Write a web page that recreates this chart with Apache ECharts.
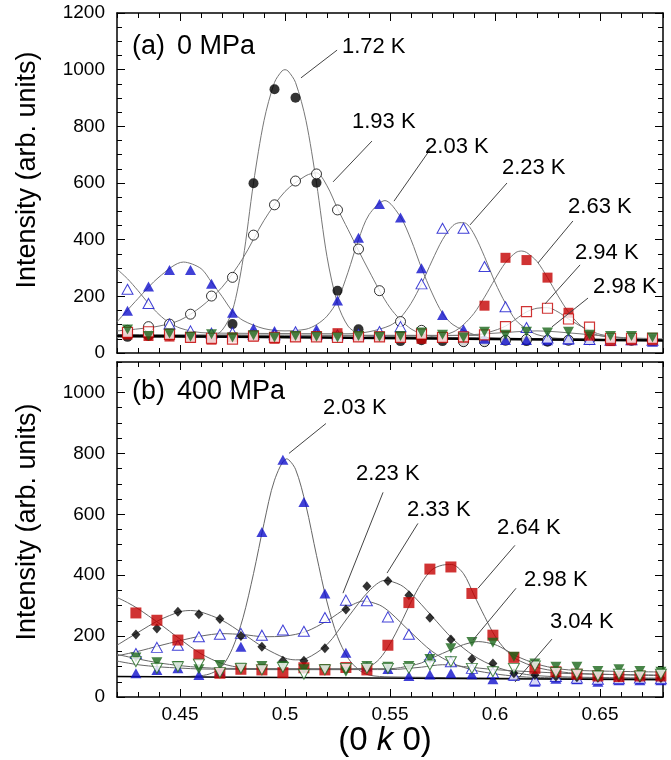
<!DOCTYPE html>
<html>
<head>
<meta charset="utf-8">
<script src="https://cdn.jsdelivr.net/npm/echarts@6/dist/echarts.min.js"></script>
<style>
  html, body { margin: 0; padding: 0; background: #fff; }
  #chart { width: 671px; height: 760px; }
</style>
</head>
<body>
<div id="chart"></div>
<script>
// measured k positions of the data points
const kA = [0.425, 0.435, 0.445, 0.455, 0.465, 0.475, 0.485, 0.495, 0.505, 0.515, 0.525, 0.535, 0.545,
            0.555, 0.565, 0.575, 0.585, 0.595, 0.605, 0.615, 0.625, 0.635, 0.645, 0.655, 0.665, 0.675];
const kB = [0.429, 0.439, 0.449, 0.459, 0.469, 0.479, 0.489, 0.499, 0.509, 0.519, 0.529, 0.539, 0.549,
            0.559, 0.569, 0.579, 0.589, 0.599, 0.609, 0.619, 0.629, 0.639, 0.649, 0.659, 0.669, 0.679];

// (a) 0 MPa
const a172 = [57, 60, 62, 58, 55, 102, 599, 931, 901, 601, 220, 84, 58, 42, 45, 42, 40, 40, 45, 42, 40, 45, 48, 45, 45, 42];
const a193 = [80, 93, 102, 137, 201, 267, 416, 523, 607, 632, 505, 367, 220, 111, 80, 55, 40, 40, 45, 48, 45, 45, 47, 45, 45, 45];
const a203 = [149, 235, 293, 293, 244, 142, 87, 78, 72, 84, 185, 407, 526, 478, 299, 134, 84, 50, 46, 46, 45, 47, 46, 48, 46, 40];
const a223 = [225, 175, 102, 78, 70, 72, 66, 64, 75, 66, 64, 66, 76, 93, 244, 440, 440, 305, 163, 90, 53, 50, 48, 45, 47, 45];
const a263 = [65, 60, 58, 55, 47, 55, 58, 50, 57, 60, 70, 58, 58, 55, 50, 55, 55, 167, 336, 328, 266, 142, 61, 42, 45, 45];
const a294 = [73, 75, 66, 55, 52, 49, 60, 55, 57, 57, 55, 57, 57, 55, 67, 55, 57, 64, 93, 146, 158, 120, 91, 52, 52, 52];
const a298 = [83, 60, 69, 57, 66, 55, 63, 55, 60, 57, 55, 60, 57, 60, 72, 64, 55, 75, 64, 75, 72, 75, 64, 60, 60, 55];

// (b) 400 MPa
const b203 = [78, 89, 94, 72, 85, 165, 542, 779, 640, 340, 145, 100, 92, 69, 74, 78, 75, 58, 70, 50, 60, 58, 50, 55, 55, 55];
const b223 = [143, 163, 170, 198, 206, 209, 203, 220, 216, 261, 318, 316, 263, 206, 134, 116, 94, 80, 72, 56, 67, 62, 58, 60, 62, 60];
const b233 = [205, 225, 280, 272, 256, 200, 165, 119, 119, 160, 287, 364, 381, 334, 260, 189, 125, 110, 78, 72, 67, 65, 63, 65, 63, 62];
const b264 = [276, 252, 187, 138, 78, 91, 89, 80, 96, 89, 97, 89, 170, 310, 420, 427, 340, 203, 130, 94, 83, 75, 69, 67, 69, 69];
const b298 = [130, 114, 102, 91, 105, 96, 102, 102, 91, 91, 83, 102, 99, 102, 125, 160, 181, 178, 132, 110, 99, 99, 85, 91, 85, 83];
const b304 = [116, 94, 99, 108, 80, 94, 89, 97, 75, 89, 94, 94, 94, 94, 105, 116, 94, 83, 94, 102, 80, 75, 69, 75, 69, 75];

// fitted curves as [k, I]
const c172A = [[0.42, 62], [0.465, 60], [0.47, 80], [0.475, 150], [0.48, 330], [0.485, 600], [0.49, 820], [0.495, 955],
               [0.4985, 995], [0.5, 1000], [0.5015, 995], [0.505, 955], [0.51, 820], [0.515, 600], [0.52, 340],
               [0.525, 175], [0.53, 95], [0.535, 68], [0.54, 60], [0.68, 45]];
const c193A = [[0.42, 78], [0.43, 85], [0.44, 95], [0.45, 116], [0.46, 163], [0.47, 232], [0.48, 335], [0.49, 468],
               [0.5, 570], [0.51, 626], [0.515, 636], [0.52, 590], [0.525, 510], [0.53, 436], [0.54, 290], [0.55, 160],
               [0.56, 85], [0.57, 58], [0.58, 50], [0.68, 45]];
const c203A = [[0.42, 110], [0.43, 192], [0.44, 268], [0.4516, 321], [0.46, 298], [0.465, 250], [0.47, 200], [0.475, 147],
               [0.48, 115], [0.49, 86], [0.5, 78], [0.51, 84], [0.515, 100], [0.52, 130], [0.525, 185], [0.53, 285],
               [0.535, 400], [0.54, 488], [0.5476, 538], [0.555, 480], [0.56, 400], [0.565, 300], [0.57, 212],
               [0.575, 140], [0.58, 100], [0.59, 65], [0.6, 52], [0.68, 45]];
const c223A = [[0.42, 296], [0.425, 262], [0.43, 220], [0.435, 175], [0.44, 136], [0.445, 106], [0.45, 88], [0.455, 78],
               [0.46, 72], [0.47, 70], [0.53, 68], [0.54, 75], [0.55, 97], [0.555, 125], [0.56, 175], [0.565, 244],
               [0.57, 325], [0.575, 400], [0.58, 450], [0.5833, 460], [0.586, 458], [0.59, 420], [0.595, 340],
               [0.6, 250], [0.605, 175], [0.61, 115], [0.615, 85], [0.62, 65], [0.63, 52], [0.68, 45]];
const c263A = [[0.42, 55], [0.57, 55], [0.58, 74], [0.585, 100], [0.59, 140], [0.595, 197], [0.6, 261], [0.605, 319],
               [0.61, 355], [0.6127, 360], [0.615, 355], [0.62, 323], [0.625, 266], [0.63, 202], [0.635, 144],
               [0.64, 102], [0.645, 75], [0.65, 61], [0.66, 52], [0.68, 47]];
const c294A = [[0.42, 62], [0.59, 62], [0.6, 80], [0.605, 95], [0.61, 120], [0.615, 145], [0.62, 158], [0.625, 160],
               [0.63, 145], [0.635, 120], [0.64, 98], [0.645, 80], [0.65, 66], [0.66, 54], [0.68, 48]];
const c298A = [[0.42, 65], [0.58, 62], [0.6, 70], [0.62, 78], [0.64, 68], [0.66, 55], [0.68, 50]];
const baseA = [[0.42, 61], [0.68, 44]];

const c203B = [[0.42, 67], [0.45, 67], [0.46, 70], [0.465, 78], [0.47, 100], [0.475, 160], [0.48, 260], [0.485, 405],
               [0.49, 570], [0.495, 712], [0.5008, 782], [0.505, 748], [0.51, 628], [0.515, 465], [0.52, 312],
               [0.525, 198], [0.53, 128], [0.535, 90], [0.54, 72], [0.55, 66], [0.68, 58]];
const c223B = [[0.42, 135], [0.43, 150], [0.44, 168], [0.45, 185], [0.46, 200], [0.47, 208], [0.48, 205], [0.49, 198],
               [0.5, 200], [0.51, 215], [0.52, 250], [0.53, 295], [0.5375, 315], [0.545, 302], [0.55, 278],
               [0.56, 212], [0.57, 150], [0.58, 110], [0.59, 88], [0.6, 76], [0.61, 68], [0.62, 64], [0.68, 60]];
const c233B = [[0.42, 170], [0.43, 212], [0.44, 252], [0.45, 280], [0.455, 284], [0.46, 279], [0.47, 252], [0.48, 208],
               [0.49, 162], [0.5, 128], [0.505, 122], [0.51, 126], [0.52, 172], [0.53, 262], [0.54, 348],
               [0.5475, 383], [0.555, 368], [0.56, 340], [0.57, 265], [0.58, 190], [0.59, 135], [0.6, 100],
               [0.61, 80], [0.62, 70], [0.64, 65], [0.68, 62]];
const c264B = [[0.42, 327], [0.425, 310], [0.43, 290], [0.44, 242], [0.45, 190], [0.46, 142], [0.47, 110], [0.48, 95],
               [0.49, 90], [0.53, 90], [0.54, 100], [0.545, 125], [0.55, 175], [0.555, 240], [0.56, 312],
               [0.565, 375], [0.57, 418], [0.575, 433], [0.5794, 435], [0.585, 405], [0.59, 335], [0.595, 265],
               [0.6, 200], [0.605, 155], [0.61, 125], [0.62, 97], [0.63, 84], [0.64, 77], [0.68, 70]];
const c298B = [[0.42, 140], [0.43, 125], [0.44, 112], [0.45, 103], [0.46, 97], [0.47, 94], [0.55, 93], [0.56, 103],
               [0.565, 112], [0.57, 128], [0.58, 158], [0.585, 172], [0.592, 182], [0.6, 172], [0.605, 155],
               [0.61, 135], [0.62, 108], [0.63, 93], [0.64, 87], [0.68, 82]];
const c304B = [[0.42, 118], [0.43, 106], [0.44, 99], [0.45, 95], [0.46, 92], [0.5, 90], [0.55, 90], [0.565, 98],
               [0.575, 106], [0.585, 100], [0.6, 90], [0.62, 82], [0.64, 76], [0.68, 72]];
const baseB = [[0.42, 67], [0.68, 57]];

// tick labels
const xTicks = [0.45, 0.5, 0.55, 0.6, 0.65];
const yTicksA = [0, 200, 400, 600, 800, 1000, 1200];
const yTicksB = [0, 200, 400, 600, 800, 1000];

const tempsA = ['1.72 K', '1.93 K', '2.03 K', '2.23 K', '2.63 K', '2.94 K', '2.98 K'];
const tempsB = ['2.03 K', '2.23 K', '2.33 K', '2.64 K', '2.98 K', '3.04 K'];

const FONT = '"Liberation Sans", Arial, sans-serif';
const BLUE = '#1010cc', RED = '#c40000', GREEN = '#1a661a';

function xAxes(g, labels) {
  const major = pos => ({
    type: 'value', gridIndex: g, position: pos, min: 0.42, max: 0.68,
    splitLine: { show: false },
    axisLine: { onZero: false, lineStyle: { color: '#000', width: 1.5 } },
    axisTick: { inside: true, length: 8, customValues: xTicks, lineStyle: { color: '#000' } },
    axisLabel: labels && pos === 'bottom'
      ? { customValues: xTicks, fontSize: 19, fontFamily: FONT, color: '#000', margin: 8, formatter: v => String(v) }
      : { show: false }
  });
  const minor = pos => ({
    type: 'value', gridIndex: g, position: pos, min: 0.42, max: 0.68, interval: 0.01,
    splitLine: { show: false },
    axisLine: { show: false, onZero: false },
    axisTick: { inside: true, length: 5, lineStyle: { color: '#000' } },
    axisLabel: { show: false }
  });
  return [major('bottom'), minor('bottom'), major('top'), minor('top')];
}

function yAxes(g, max, ticks) {
  const major = pos => ({
    type: 'value', gridIndex: g, position: pos, min: 0, max: max,
    splitLine: { show: false },
    axisLine: { onZero: false, lineStyle: { color: '#000', width: 1.5 } },
    axisTick: { inside: true, length: 8, customValues: ticks, lineStyle: { color: '#000' } },
    axisLabel: pos === 'left'
      ? { customValues: ticks, fontSize: 19, fontFamily: FONT, color: '#000', margin: 12, formatter: v => String(v) }
      : { show: false }
  });
  const minor = pos => ({
    type: 'value', gridIndex: g, position: pos, min: 0, max: max, interval: 50,
    splitLine: { show: false },
    axisLine: { show: false, onZero: false },
    axisTick: { inside: true, length: 5, lineStyle: { color: '#000' } },
    axisLabel: { show: false }
  });
  return [major('left'), minor('left'), major('right'), minor('right')];
}

function curve(pts, g, color, width) {
  return {
    type: 'line', xAxisIndex: g * 4, yAxisIndex: g * 4, data: pts,
    showSymbol: false, smooth: 0.3, silent: true, z: 1,
    lineStyle: { color: color || '#777', width: width || 1 }
  };
}

function marks(vals, ks, g, sym) {
  return Object.assign({
    type: 'scatter', xAxisIndex: g * 4, yAxisIndex: g * 4, silent: true, z: 3,
    data: ks.map((k, i) => [k, vals[i]])
  }, sym);
}

const filledTri = c => ({ symbol: 'triangle', symbolSize: [11, 10], itemStyle: { color: c } });
const openTri = c => ({ symbol: 'triangle', symbolSize: [11, 10], itemStyle: { color: '#fff', borderColor: c, borderWidth: 1 } });
const downTri = c => ({ symbol: 'triangle', symbolRotate: 180, symbolSize: [11, 10], itemStyle: { color: c } });
const openDownTri = c => ({ symbol: 'triangle', symbolRotate: 180, symbolSize: [11, 10], itemStyle: { color: '#fff', borderColor: c, borderWidth: 1 } });

const chart = echarts.init(document.getElementById('chart'));

const option = {
  animation: false,
  backgroundColor: '#fff',
  grid: [
    { left: 117, top: 13, width: 546, height: 340 },
    { left: 117, top: 362, width: 546, height: 335 }
  ],
  xAxis: xAxes(0, false).concat(xAxes(1, true)),
  yAxis: yAxes(0, 1200, yTicksA).concat(yAxes(1, 1100, yTicksB)),
  series: [
    curve(c172A, 0), curve(c193A, 0), curve(c203A, 0), curve(c223A, 0),
    curve(c263A, 0), curve(c294A, 0), curve(c298A, 0), curve(baseA, 0, '#000', 2.5),
    curve(c203B, 1, '#666'), curve(c223B, 1, '#666'), curve(c233B, 1, '#666'), curve(c264B, 1, '#666'),
    curve(c298B, 1, '#666'), curve(c304B, 1, '#666'), curve(baseB, 1, '#000', 1.5),

    marks(a172, kA, 0, { symbol: 'circle', symbolSize: 10, itemStyle: { color: '#000' } }),
    marks(a193, kA, 0, { symbol: 'circle', symbolSize: 10, itemStyle: { color: '#fff', borderColor: '#000', borderWidth: 1 } }),
    marks(a203, kA, 0, filledTri(BLUE)),
    marks(a223, kA, 0, openTri(BLUE)),
    marks(a263, kA, 0, { symbol: 'rect', symbolSize: 10, itemStyle: { color: RED } }),
    marks(a294, kA, 0, { symbol: 'rect', symbolSize: 10, itemStyle: { color: '#fff', borderColor: RED, borderWidth: 1.2 } }),
    marks(a298, kA, 0, downTri(GREEN)),

    marks(b203, kB, 1, filledTri(BLUE)),
    marks(b223, kB, 1, openTri(BLUE)),
    marks(b233, kB, 1, { symbol: 'diamond', symbolSize: [9, 10], itemStyle: { color: '#000' } }),
    marks(b264, kB, 1, { symbol: 'rect', symbolSize: 11, itemStyle: { color: RED } }),
    marks(b298, kB, 1, downTri(GREEN)),
    marks(b304, kB, 1, openDownTri(GREEN))
  ]
};
chart.setOption(option);

// label anchors in data units: [text k, text I, line start k, I, line end k, I]
const notePosA = [
  [0.5271, 1080, 0.5076, 971, 0.5248, 1069],
  [0.5319, 815, 0.5229, 604, 0.5414, 748],
  [0.5667, 727, 0.5519, 536, 0.5690, 717],
  [0.6033, 653, 0.5881, 452, 0.6057, 600],
  [0.6348, 515, 0.6205, 318, 0.6371, 466],
  [0.6381, 353, 0.6238, 173, 0.6405, 311],
  [0.6467, 233, 0.6271, 92, 0.6443, 194]
];
const notePosB = [
  [0.5181, 948, 0.5019, 800, 0.5195, 898],
  [0.5338, 734, 0.5276, 341, 0.5467, 672],
  [0.5581, 613, 0.5486, 407, 0.5633, 570],
  [0.6010, 554, 0.5919, 357, 0.6095, 498],
  [0.6138, 384, 0.5895, 187, 0.6100, 357],
  [0.6262, 246, 0.6095, 49, 0.6271, 190]
];

const graphic = [];
function addNotes(texts, pos, axisIdx) {
  const finder = { xAxisIndex: axisIdx, yAxisIndex: axisIdx };
  texts.forEach((t, i) => {
    const p = pos[i];
    const tp = chart.convertToPixel(finder, [p[0], p[1]]);
    const a = chart.convertToPixel(finder, [p[2], p[3]]);
    const b = chart.convertToPixel(finder, [p[4], p[5]]);
    graphic.push({ type: 'line', silent: true, z: 10,
      shape: { x1: a[0], y1: a[1], x2: b[0], y2: b[1] },
      style: { stroke: '#444', lineWidth: 1 } });
    graphic.push({ type: 'text', silent: true, z: 10, x: tp[0], y: tp[1],
      style: { text: t, fontSize: 22, fontFamily: FONT, fill: '#000', align: 'left', verticalAlign: 'middle' } });
  });
}
addNotes(tempsA, notePosA, 0);
addNotes(tempsB, notePosB, 4);

function txt(s, x, y, size) {
  return { type: 'text', silent: true, z: 10, x: x, y: y,
    style: { text: s, fontSize: size, fontFamily: FONT, fill: '#000', align: 'left', verticalAlign: 'middle' } };
}
graphic.push(txt('(a)', 132, 47, 27));
graphic.push(txt('0 MPa', 177, 47, 27));
graphic.push(txt('(b)', 132, 392, 27));
graphic.push(txt('400 MPa', 177, 392, 27));
graphic.push({ type: 'text', silent: true, x: 28, y: 170, rotation: Math.PI / 2,
  style: { text: 'Intensity (arb. units)', fontSize: 27, fontFamily: FONT, fill: '#000', align: 'center', verticalAlign: 'middle' } });
graphic.push({ type: 'text', silent: true, x: 28, y: 522, rotation: Math.PI / 2,
  style: { text: 'Intensity (arb. units)', fontSize: 27, fontFamily: FONT, fill: '#000', align: 'center', verticalAlign: 'middle' } });
graphic.push({ type: 'text', silent: true, x: 385, y: 741,
  style: { text: '{n|(0 }{i|k}{n| 0)}', align: 'center', verticalAlign: 'middle',
    rich: { n: { fontSize: 33, fontFamily: FONT, fill: '#000' }, i: { fontSize: 33, fontFamily: FONT, fontStyle: 'italic', fill: '#000' } } } });

chart.setOption({ graphic: graphic });
</script>
</body>
</html>
